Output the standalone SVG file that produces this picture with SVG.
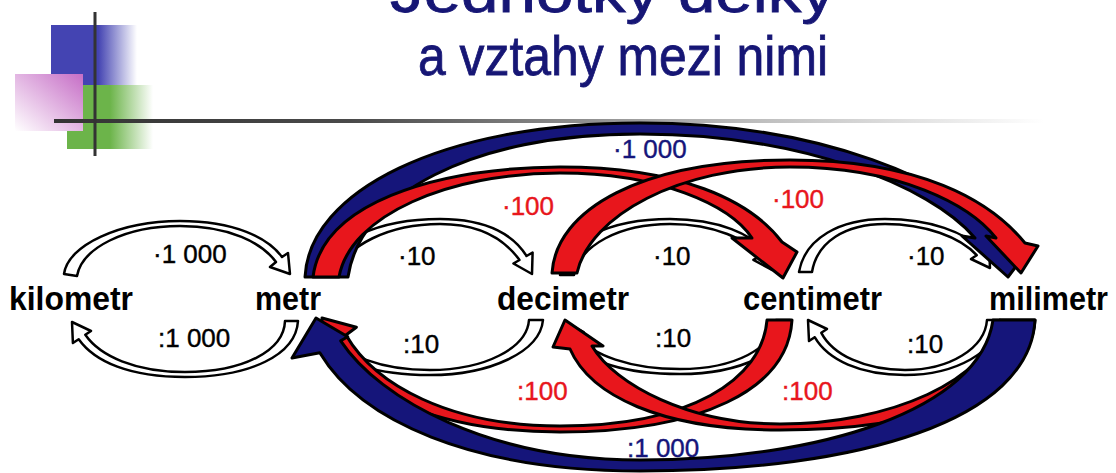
<svg xmlns="http://www.w3.org/2000/svg" width="1116" height="473" viewBox="0 0 1116 473">
<defs>
<linearGradient id="gBlue" x1="0" y1="0" x2="1" y2="0"><stop offset="0" stop-color="#4444b2"/><stop offset="0.55" stop-color="#4444b2"/><stop offset="1" stop-color="#4444b2" stop-opacity="0"/></linearGradient>
<linearGradient id="gGreen" x1="0" y1="0" x2="1" y2="0"><stop offset="0" stop-color="#6cb44a"/><stop offset="0.5" stop-color="#6cb44a"/><stop offset="1" stop-color="#6cb44a" stop-opacity="0"/></linearGradient>
<linearGradient id="gPink" x1="1" y1="0" x2="0" y2="1"><stop offset="0" stop-color="#c66ec6"/><stop offset="1" stop-color="#ffffff"/></linearGradient>
<linearGradient id="gLine" x1="0" y1="0" x2="1" y2="0"><stop offset="0" stop-color="#333333"/><stop offset="0.3" stop-color="#4a4a4a"/><stop offset="0.65" stop-color="#b0b0b0"/><stop offset="1" stop-color="#ffffff"/></linearGradient>
<style>
.w{fill:#ffffff;stroke:#000;stroke-width:2.5;stroke-linejoin:round}
.r{fill:#e8161c;stroke:#000;stroke-width:3;stroke-linejoin:round}
.b{fill:#15157a;stroke:#000;stroke-width:3;stroke-linejoin:round}
.node{font-family:"Liberation Sans",Arial,sans-serif;font-weight:bold;font-size:33px;fill:#000}
.lbl{font-family:"Liberation Sans",Arial,sans-serif;font-size:26px;fill:#000;stroke:#000;stroke-width:0.4}
.lr{fill:#e8161c;stroke:#e8161c}
.lb{fill:#15157a;stroke:#15157a}
.title{font-family:"Liberation Sans",Arial,sans-serif;fill:#161675;stroke:#161675;stroke-width:0.8}
</style>
</defs>
<rect width="1116" height="473" fill="#ffffff"/>
<g id="decor">
<rect x="51" y="25" width="86" height="60" fill="url(#gBlue)"/>
<rect x="67" y="85" width="86" height="64" fill="url(#gGreen)"/>
<rect x="15" y="74" width="68" height="57" fill="url(#gPink)"/>
<rect x="54" y="119" width="990" height="4" fill="url(#gLine)"/>
<rect x="93.5" y="12" width="3" height="144" fill="#333333"/>
</g>
<g id="title">
<text class="title" x="390" y="12" font-size="58" textLength="445" lengthAdjust="spacingAndGlyphs">Jednotky délky</text>
<text class="title" x="418" y="75" font-size="56" textLength="410" lengthAdjust="spacingAndGlyphs">a vztahy mezi nimi</text>
</g>
<g id="connectors">
<path id="w1" class="w" d="M64,274 C68,245 120,221 180,221 C235,221 268,238 282,257 L288,253 L290,274 L270,267 L276,262 C262,243 230,226 180,226 C125,226 82,248 77,276 Z"/>
<path id="w2" class="w" d="M298,321 C296,355 250,377 185,377 C130,377 95,362 78.7,339.2 L72.9,343 L72,322 L91,331 L85.3,334.8 C100,356 135,372 185,372 C245,372 284,350 285,321 Z"/>
<path id="w3" class="w" d="M322,275 C330,240 380,219 440,219 C490,219 515,237 526.5,256 L532.6,252.5 L532,274 L513.4,263.5 L519.5,260 C505,240 480,224 440,224 C390,224 345,245 336,275 Z"/>
<path id="w4" class="w" d="M543,320 C540,352 490,375 430,375 C375,375 340,362 323.5,339.7 L317.4,343.2 L318,322 L336.6,332.2 L330.5,335.7 C345,355 380,370 430,370 C485,370 527,348 529,320 Z"/>
<path id="w5" class="w" d="M560,275 C565,240 610,219 670,219 C720,219 752,235 766.5,252.3 L772.6,248.8 L772,270 L753.4,259.8 L759.5,256.3 C748,240 715,224 670,224 C620,224 580,245 574,275 Z"/>
<path id="w6" class="w" d="M790,320 C787,352 740,374 680,374 C625,374 587,362 570.5,339.7 L564.4,343.2 L565,322 L583.6,332.2 L577.5,335.7 C592,355 630,369 680,369 C735,369 774,348 776,320 Z"/>
<path id="w7" class="w" d="M799,272 C805,238 840,219 885,219 C930,219 965,232 983.3,250.8 L989,247 L990,268 L971,259 L976.7,255.2 C960,237 925,224 885,224 C845,224 817,242 812,272 Z"/>
<path id="w8" class="w" d="M1000,320 C998,352 955,375 905,375 C860,375 828,360 814.7,337.2 L809,341 L808,320 L827,329 L821.3,332.8 C833,355 865,370 905,370 C950,370 985,348 987,320 Z"/>
<path id="b1" class="b" d="M305,277 C309,192 440,123 640,123 C820,123 955,180 1012,245 L1030,248 L1008,277 L962,236 L975,238 C930,185 800,134 640,134 C470,134 360,195 348,277 Z"/>
<path id="r1" class="r" d="M313,277 C322,205 430,168 560,167 C680,167 750,200 782,242 L797,252 L783,278 L732,238 L752,238 C730,205 660,173 560,173 C450,173 350,215 339,277 Z"/>
<path id="r2" class="r" d="M552,273 C556,210 640,160 790,160 C920,160 990,200 1025,243 L1038,246 L1021,273 L986,236 L996,238 C970,205 900,167 790,167 C680,167 590,215 577,273 Z"/>
<path id="r3" class="r" d="M792,320 C788,390 700,432 560,432 C440,432 360,395 331.6,345.8 L321.2,353.6 L322,318 L356.4,327.2 L346,335 C375,385 450,426 560,426 C690,426 762,380 767,320 Z"/>
<path id="r4" class="r" d="M1035,320 C1030,395 920,430 780,430 C660,430 590,395 570,349 L553,347 L565,320 L603,346 L592,346 C615,385 690,424 780,424 C890,424 990,380 1000,320 Z"/>
<path id="b2" class="b" d="M1035,320 C1030,420 860,471 640,471 C470,471 360,420 319.8,352.8 L292,358 L316,318 L347.7,336.8 L340.7,340.8 C380,400 490,460 640,460 C820,460 980,410 993,320 Z"/>
</g>
<g id="connector-labels">
<text class="lbl" x="153" y="263">·1 000</text>
<text class="lbl" x="158" y="347">:1 000</text>
<text class="lbl" x="398" y="265">·10</text>
<text class="lbl" x="403" y="353">:10</text>
<text class="lbl" x="653" y="265">·10</text>
<text class="lbl" x="655" y="347">:10</text>
<text class="lbl" x="907" y="265">·10</text>
<text class="lbl" x="907" y="353">:10</text>
<text class="lbl lr" x="502" y="215">·100</text>
<text class="lbl lr" x="772" y="208">·100</text>
<text class="lbl lr" x="517" y="400">:100</text>
<text class="lbl lr" x="782" y="400">:100</text>
<text class="lbl lb" x="613" y="158">·1 000</text>
<text class="lbl lb" x="627" y="457">:1 000</text>
</g>
<g id="node-kilometr"><text class="node" x="9" y="310" textLength="124" lengthAdjust="spacingAndGlyphs">kilometr</text></g>
<g id="node-metr"><text class="node" x="255" y="310" textLength="66" lengthAdjust="spacingAndGlyphs">metr</text></g>
<g id="node-decimetr"><text class="node" x="497" y="310" textLength="132" lengthAdjust="spacingAndGlyphs">decimetr</text></g>
<g id="node-centimetr"><text class="node" x="743" y="310" textLength="139" lengthAdjust="spacingAndGlyphs">centimetr</text></g>
<g id="node-milimetr"><text class="node" x="989" y="310" font-size="32" textLength="119" lengthAdjust="spacingAndGlyphs">milimetr</text></g>
</svg>
